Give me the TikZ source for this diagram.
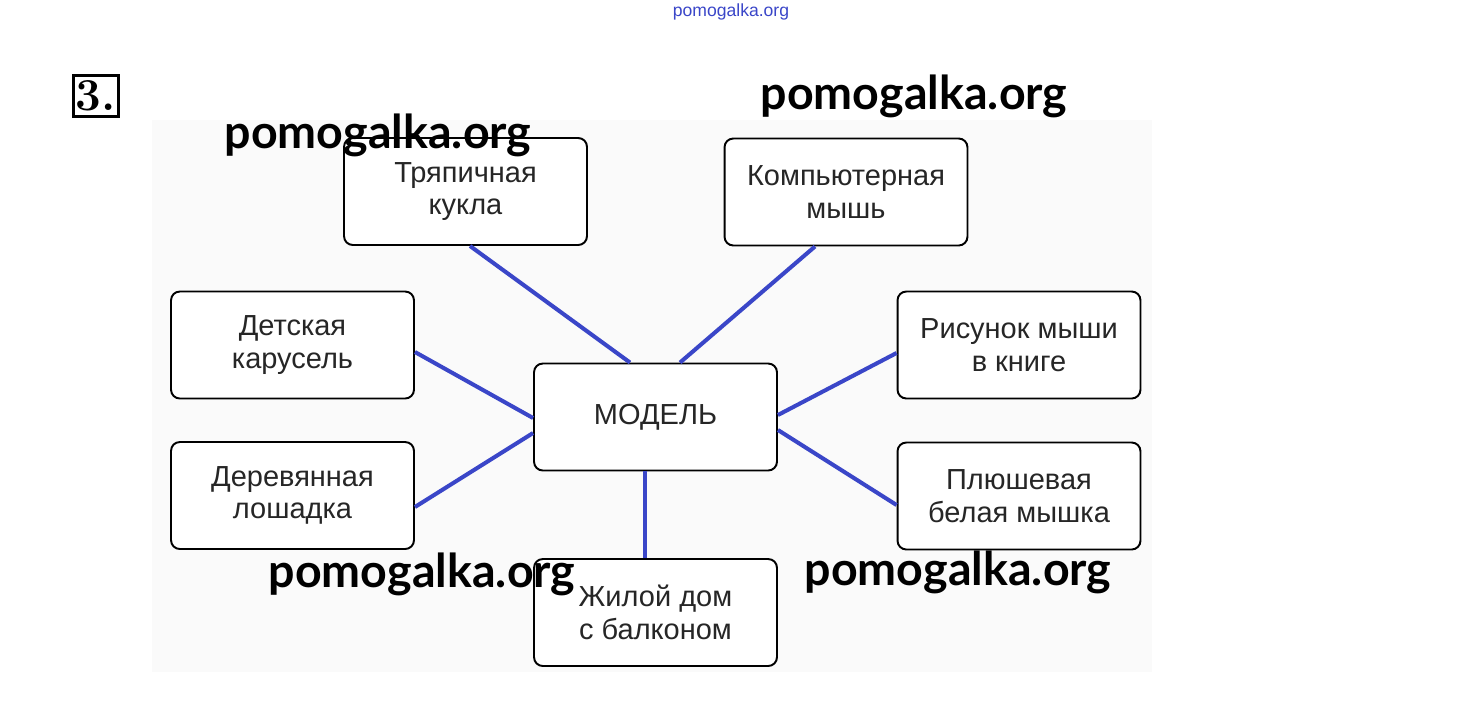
\documentclass[tikz,border=0pt]{standalone}
\usepackage{fontspec}
\newfontfamily\boxfont{Liberation Sans}
\newfontfamily\wmfont{Lato}
\definecolor{linkblue}{RGB}{58,70,200}

\begin{document}
\begin{tikzpicture}[x=0.02cm,y=-0.02cm,
 box/.style={draw,fill=white,line width=1.1pt,rounded corners=5pt,minimum width=4.86cm,minimum height=2.14cm,align=center,text=black!85,font=\boxfont\fontsize{16.5}{18.5}\selectfont},
 link/.style={line width=2.3pt,linkblue},
 wm/.style={font=\wmfont\bfseries\fontsize{26.5}{30}\selectfont}]
 \useasboundingbox (0,0) rectangle (1460,718);
 \fill[black!2] (152,120) rectangle (1152,672);
 \node[draw,line width=2.2pt,minimum width=0.9cm,minimum height=0.82cm,inner sep=0pt,font=\bfseries\fontsize{26}{26}\selectfont] (num) at (96,96) {3.};
 \node[box] (trjap) at (465.5,191.5) {Тряпичная\\кукла};
 \node[box] (komp) at (846,192) {Компьютерная\\мышь};
 \node[box] (karus) at (292.5,345) {Детская\\карусель};
 \node[box] (risun) at (1019,345) {Рисунок мыши\\в книге};
 \node[box] (model) at (655.5,417) {МОДЕЛЬ};
 \node[box] (losh) at (292.5,495.5) {Деревянная\\лошадка};
 \node[box] (plush) at (1019,496) {Плюшевая\\белая мышка};
 \node[box] (dom) at (655.5,612.5) {Жилой дом\\с балконом};
 \draw[link] ([xshift=0.09cm]trjap.south) -- ([xshift=-0.51cm]model.north);
 \draw[link] ([xshift=-0.62cm]komp.south) -- ([xshift=0.49cm]model.north);
 \draw[link] ([yshift=-0.14cm]karus.east) -- ([yshift=-0.02cm]model.west);
 \draw[link] ([yshift=-0.23cm]losh.east) -- ([yshift=-0.32cm]model.west);
 \draw[link] ([yshift=-0.16cm]risun.west) -- ([yshift=0.04cm]model.east);
 \draw[link] ([yshift=-0.18cm]plush.west) -- ([yshift=-0.26cm]model.east);
 \draw[link] ([xshift=-0.21cm]dom.north) -- ([xshift=-0.21cm]model.south);
 \node[wm] (wm1) at (914,96) {pomogalka.org};
 \node[wm] (wm2) at (378,135) {pomogalka.org};
 \node[wm] (wm3) at (422,574) {pomogalka.org};
 \node[wm] (wm4) at (958,572) {pomogalka.org};
 \node[font=\boxfont\fontsize{10}{10}\selectfont,text=linkblue] (wm0) at (731,12) {pomogalka.org};
\end{tikzpicture}
\end{document}
